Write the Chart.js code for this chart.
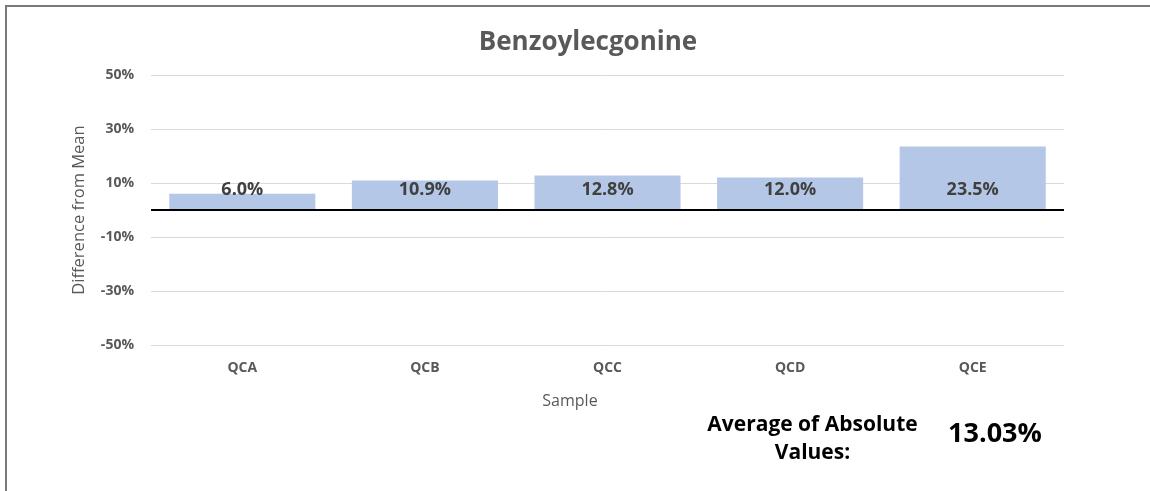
<html>
<head>
<style>
  body { margin: 0; background: #fff; }
  #wrap { position: relative; width: 1150px; height: 491px; overflow: hidden; }
  #frame { position: absolute; left: 5px; top: 5px; width: 1200px; height: 600px;
           border-left: 2px solid #7a7a7a; border-top: 2px solid #7a7a7a; }
  #myChart { position: absolute; left: 0; top: 0; }
  .note { position: absolute; font-family: "Open Sans", Lato, sans-serif; text-align: center; white-space: nowrap; }
  #chartTitle { left: 438px; top: 22px; width: 300px; font-size: 26px; line-height: 36px; font-weight: bold; color: #595959; }
  #xTitle { left: 520px; top: 389px; width: 100px; font-size: 16px; line-height: 22px; color: #595959; }
  #avgLabel { left: 680px; top: 409px; width: 265px; font-size: 21px; line-height: 28px; font-weight: bold; color: #000; }
  #avgValue { left: 930px; top: 414px; width: 130px; font-size: 27px; line-height: 36px; font-weight: bold; color: #000; }
</style>
</head>
<body>
<div id="wrap">
  <div id="frame"></div>
  <canvas id="myChart" width="1150" height="491"></canvas>
  <div class="note" id="chartTitle"></div>
  <div class="note" id="xTitle"></div>
  <div class="note" id="avgLabel"></div>
  <div class="note" id="avgValue"></div>
</div>

<script src="https://cdn.jsdelivr.net/npm/chart.js"></script>
<script>
  // values
  var chartTitle = "Benzoylecgonine";
  var xTitle = "Sample";
  var yTitle = "Difference from Mean";
  var samples = ["QCA", "QCB", "QCC", "QCD", "QCE"];
  var diffFromMean = [6.0, 10.9, 12.8, 12.0, 23.5];
  var yTicks = [-50, -30, -10, 10, 30, 50];
  var avgAbs = 13.03;

  document.getElementById("chartTitle").textContent = chartTitle;
  document.getElementById("xTitle").textContent = xTitle;
  document.getElementById("avgLabel").innerHTML = "Average of Absolute<br>Values:";
  document.getElementById("avgValue").textContent = avgAbs.toFixed(2) + "%";

  var fontFam = "'Open Sans', Lato, sans-serif";
  var grey = "#595959";

  // value labels near the bar base, then black line at zero
  var barExtras = {
    id: "barExtras",
    afterDatasetsDraw: function (chart) {
      var ctx = chart.ctx, y = chart.scales.y;
      var y0 = y.getPixelForValue(0);
      var meta = chart.getDatasetMeta(0);
      ctx.save();
      ctx.font = "bold 18px " + fontFam;
      ctx.fillStyle = "#404040";
      ctx.textAlign = "center";
      ctx.textBaseline = "middle";
      meta.data.forEach(function (bar, i) {
        ctx.fillText(diffFromMean[i].toFixed(1) + "%", bar.x, y0 - 20);
      });
      ctx.strokeStyle = "#000";
      ctx.lineWidth = 2;
      ctx.beginPath();
      ctx.moveTo(chart.chartArea.left, y0);
      ctx.lineTo(chart.chartArea.right, y0);
      ctx.stroke();
      ctx.restore();
    }
  };

  var ctx = document.getElementById("myChart").getContext("2d");
  var myChart = new Chart(ctx, {
    type: "bar",
    data: {
      labels: samples,
      datasets: [{
        label: yTitle,
        data: diffFromMean,
        backgroundColor: "#B4C7E7",
        barPercentage: 0.8,
        categoryPercentage: 1.0
      }]
    },
    options: {
      responsive: false,
      animation: false,
      layout: { padding: { left: 60, right: 86, top: 75, bottom: 80 } },
      plugins: {
        legend: { display: false },
        tooltip: { enabled: false },
        title: { display: false }
      },
      scales: {
        x: {
          grid: { display: false },
          border: { display: false },
          ticks: { color: grey, font: { family: fontFam, size: 14, weight: "bold" }, padding: 7 },
          afterFit: function (scale) { scale.height = 66; }
        },
        y: {
          min: -50,
          max: 50,
          afterBuildTicks: function (scale) {
            scale.ticks = yTicks.map(function (v) { return { value: v }; });
          },
          grid: { color: "#d9d9d9", lineWidth: 1, drawTicks: false },
          border: { display: false },
          ticks: {
            color: grey,
            padding: 17,
            font: { family: fontFam, size: 14, weight: "bold" },
            callback: function (v) { return v + "%"; }
          },
          title: { display: true, text: yTitle, color: grey,
                   font: { family: fontFam, size: 16.5 }, padding: { top: 9, bottom: 0 } },
          afterFit: function (scale) { scale.width = 91; }
        }
      }
    },
    plugins: [barExtras]
  });
</script>
</body>
</html>
